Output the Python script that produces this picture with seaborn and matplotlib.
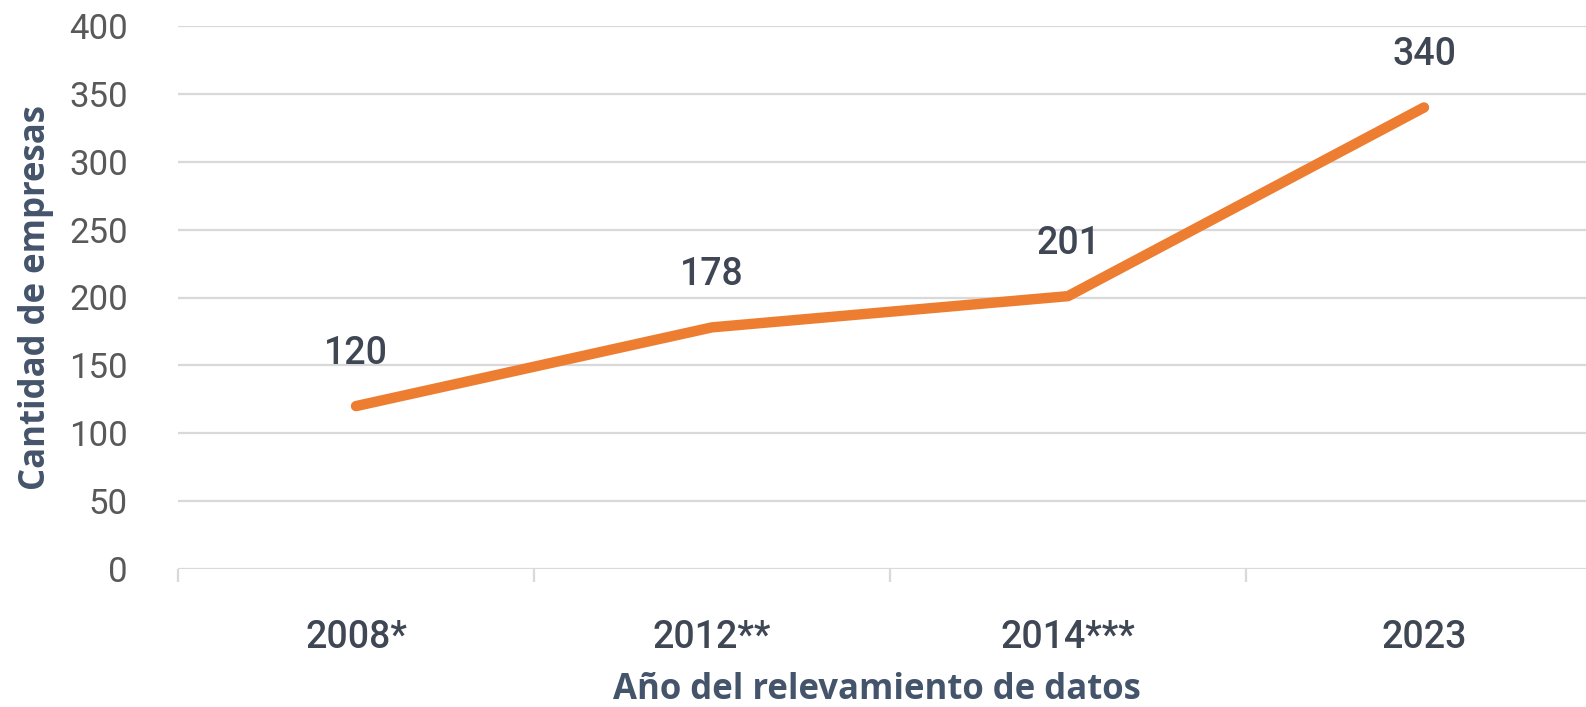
import matplotlib
matplotlib.use('Agg')
import matplotlib.pyplot as plt
import seaborn as sns

years = ['2008*', '2012**', '2014***', '2023']
empresas = [120, 178, 201, 340]
y_ticks = [0, 50, 100, 150, 200, 250, 300, 350, 400]

sns.set_style('white')
plt.rcParams['font.family'] = ['Roboto', 'DejaVu Sans']

fig = plt.figure(figsize=(15.86, 7.07), dpi=100)
ax = fig.add_axes([178 / 1586, 138 / 707, 1424 / 1586, 543 / 707])

sns.lineplot(x=years, y=empresas, ax=ax, color='#ED7D31', linewidth=7.5, sort=False)

for i, v in enumerate(empresas):
    ax.annotate(str(v), (i, v), xytext=(0, 38), textcoords='offset points',
                ha='center', va='center', fontsize=27, fontweight='medium', color='#3F4654')

ax.set_xlim(-0.5, 3.5)
ax.set_ylim(0, 400)
ax.set_yticks(y_ticks)
ax.set_yticklabels([str(t) for t in y_ticks], fontsize=25, color='#595959')
ax.set_xticks(range(len(years)))
ax.set_xticklabels(years, fontsize=27, fontweight='medium', color='#3F4654')
ax.set_xticks([i - 0.5 for i in range(len(years) + 1)], minor=True)
ax.tick_params(axis='x', which='both', bottom=True)
ax.tick_params(axis='x', which='major', length=0, pad=36)
ax.tick_params(axis='x', which='minor', length=9, width=1.6, color='#D9D9D9')
ax.tick_params(axis='y', length=0, pad=36)
ax.grid(axis='y', color='#D9D9D9', linewidth=1.6)
ax.set_axisbelow(True)
for s in ax.spines.values():
    s.set_visible(False)

ax.set_ylabel('Cantidad de empresas', fontsize=25, fontweight='bold', color='#44546A',
              family=['Open Sans', 'DejaVu Sans'])
ax.yaxis.set_label_coords(-124 / 1424, 0.5)
fig.text(877 / 1586, 1 - 690 / 707, 'Año del relevamiento de datos', ha='center', va='center',
         fontsize=25, fontweight='bold', color='#44546A', family=['Open Sans', 'DejaVu Sans'])

plt.savefig('out.png', dpi=100)
